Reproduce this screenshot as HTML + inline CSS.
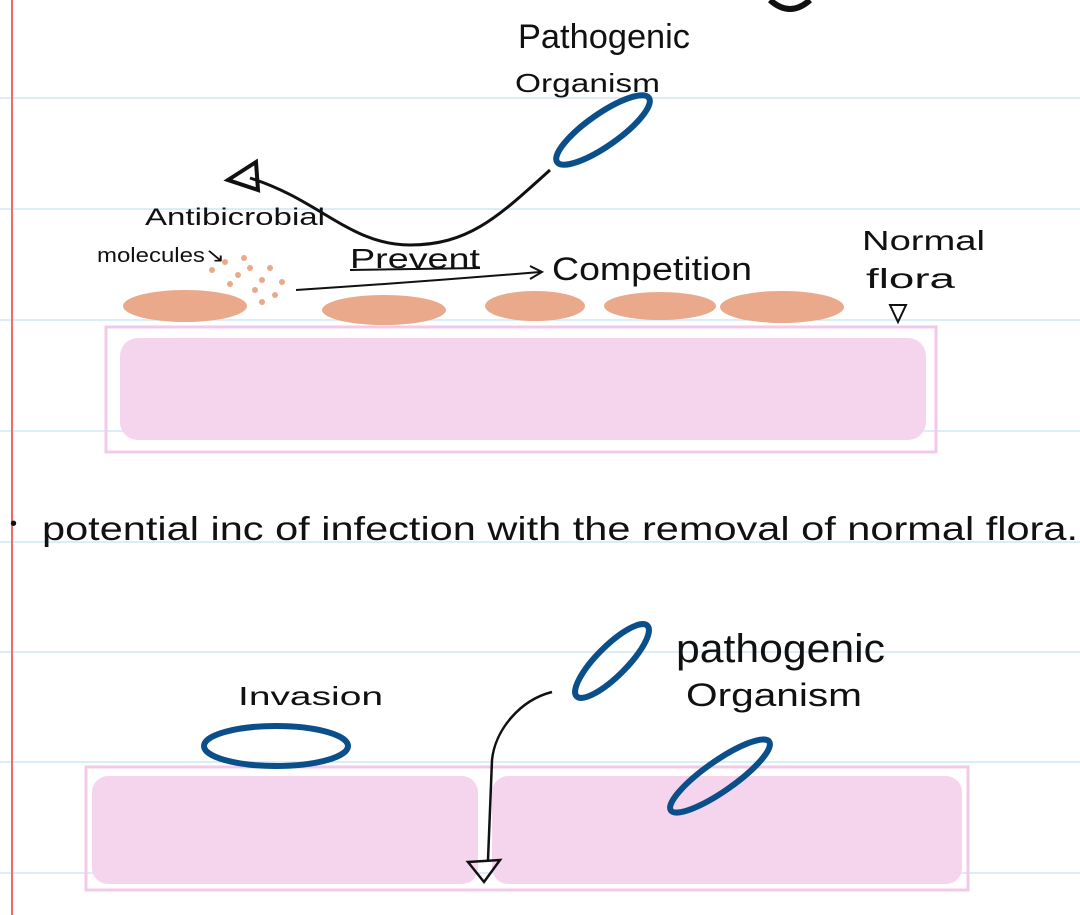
<!DOCTYPE html>
<html><head><meta charset="utf-8"><style>
html,body{margin:0;padding:0;background:#fff;}
svg{display:block}
text{font-family:"Liberation Sans",sans-serif;fill:#111;font-weight:300;}
</style></head><body>
<svg width="1080" height="915" viewBox="0 0 1080 915" xmlns="http://www.w3.org/2000/svg">
<g stroke="#cfe8f6" stroke-width="1.5">
<line x1="0" y1="98" x2="1080" y2="98"/>
<line x1="0" y1="209" x2="1080" y2="209"/>
<line x1="0" y1="320" x2="1080" y2="320"/>
<line x1="0" y1="431" x2="1080" y2="431"/>
<line x1="0" y1="542" x2="1080" y2="542"/>
<line x1="0" y1="652" x2="1080" y2="652"/>
<line x1="0" y1="762" x2="1080" y2="762"/>
<line x1="0" y1="873" x2="1080" y2="873"/>
</g>
<line x1="12" y1="0" x2="12" y2="915" stroke="#f26a6a" stroke-width="2"/>
<path d="M770,0 Q790,18 810,0" fill="none" stroke="#111" stroke-width="6"/>

<rect x="106" y="327" width="830" height="125" fill="none" stroke="#f3c9ea" stroke-width="3"/>
<rect x="120" y="338" width="806" height="102" rx="18" fill="#f5d5ee"/>
<g fill="#e9a98a">
<ellipse cx="185" cy="306" rx="62" ry="16"/>
<ellipse cx="384" cy="310" rx="62" ry="15"/>
<ellipse cx="535" cy="306" rx="50" ry="15"/>
<ellipse cx="660" cy="306" rx="56" ry="14"/>
<ellipse cx="782" cy="307" rx="62" ry="16"/>
<circle cx="212" cy="270" r="3"/><circle cx="225" cy="262" r="3"/><circle cx="238" cy="275" r="3"/><circle cx="250" cy="268" r="3"/><circle cx="262" cy="280" r="3"/><circle cx="270" cy="268" r="3"/><circle cx="255" cy="290" r="3"/><circle cx="244" cy="258" r="3"/><circle cx="275" cy="295" r="3"/><circle cx="282" cy="282" r="3"/><circle cx="230" cy="284" r="3"/><circle cx="262" cy="302" r="3"/>
</g>
<ellipse cx="603" cy="130" rx="56" ry="16" transform="rotate(-35 603 130)" fill="none" stroke="#0b4f8a" stroke-width="6"/>
<path d="M550,170 C500,215 470,245 410,245 C350,245 320,200 250,178" fill="none" stroke="#111" stroke-width="3"/>
<path d="M256,162 L228,180 L258,190 Z" fill="none" stroke="#111" stroke-width="4"/>
<path d="M296,290 Q420,282 540,272" fill="none" stroke="#111" stroke-width="2"/>
<path d="M530,266 L542,272 L530,279" fill="none" stroke="#111" stroke-width="2"/>
<path d="M350,270 L480,268" stroke="#111" stroke-width="2"/>
<path d="M890,305 L898,322 L906,305 Z" fill="none" stroke="#111" stroke-width="2"/>
<text x="518" y="48" font-size="34" textLength="172" lengthAdjust="spacingAndGlyphs">Pathogenic</text>
<text x="515" y="92" font-size="26" textLength="145" lengthAdjust="spacingAndGlyphs">Organism</text>
<text x="145" y="225" font-size="24" textLength="180" lengthAdjust="spacingAndGlyphs">Antibicrobial</text>
<text x="97" y="262" font-size="20" textLength="128" lengthAdjust="spacingAndGlyphs">molecules↘</text>
<text x="350" y="268" font-size="28" textLength="130" lengthAdjust="spacingAndGlyphs">Prevent</text>
<text x="552" y="280" font-size="32" textLength="200" lengthAdjust="spacingAndGlyphs">Competition</text>
<text x="862" y="250" font-size="28" textLength="123" lengthAdjust="spacingAndGlyphs">Normal</text>
<text x="866" y="288" font-size="28" textLength="89" lengthAdjust="spacingAndGlyphs">flora</text>

<text x="10" y="530" font-size="20">•</text>
<text x="42" y="540" font-size="33" textLength="1036" lengthAdjust="spacingAndGlyphs">potential inc of infection with the removal of normal flora.</text>

<rect x="86" y="767" width="882" height="123" fill="none" stroke="#f3c9ea" stroke-width="3"/>
<rect x="92" y="776" width="386" height="108" rx="16" fill="#f5d5ee"/>
<rect x="492" y="776" width="470" height="108" rx="16" fill="#f5d5ee"/>
<ellipse cx="612" cy="661" rx="50" ry="15" transform="rotate(-45 612 661)" fill="none" stroke="#0b4f8a" stroke-width="6"/>
<ellipse cx="276" cy="746" rx="72" ry="20" fill="none" stroke="#0b4f8a" stroke-width="6"/>
<ellipse cx="720" cy="776" rx="60" ry="15" transform="rotate(-35 720 776)" fill="none" stroke="#0b4f8a" stroke-width="6"/>
<path d="M552,692 C520,700 495,730 492,760 L488,860" fill="none" stroke="#111" stroke-width="2.5"/>
<path d="M468,862 L484,882 L500,860 Z" fill="none" stroke="#111" stroke-width="2.5"/>
<text x="238" y="705" font-size="26" textLength="145" lengthAdjust="spacingAndGlyphs">Invasion</text>
<text x="676" y="662" font-size="40" textLength="209" lengthAdjust="spacingAndGlyphs">pathogenic</text>
<text x="686" y="706" font-size="32" textLength="176" lengthAdjust="spacingAndGlyphs">Organism</text>
</svg>
</body></html>
